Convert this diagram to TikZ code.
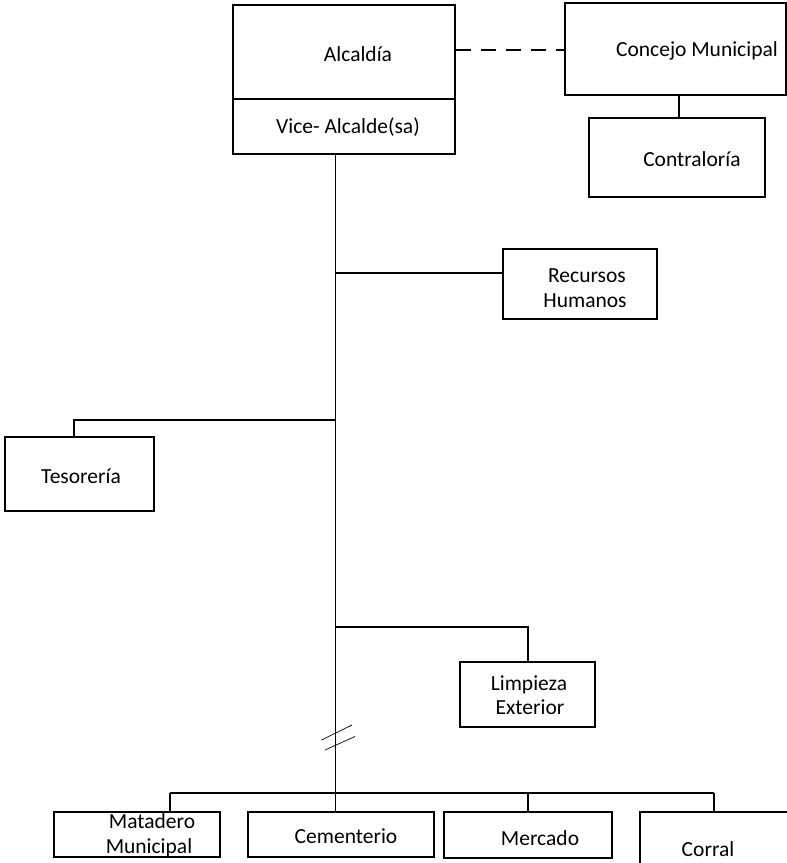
\documentclass[tikz,border=0pt]{standalone}
\usepackage{fontspec}
\setmainfont{Carlito}
\begin{document}
\begin{tikzpicture}[x=1pt,y=-1pt,
  box/.style={draw,line width=1.9pt,inner sep=0pt,minimum width=#1},
  lbl/.style={anchor=base,inner sep=0pt,font=\fontsize{21.5}{25}\selectfont},
  conn/.style={line width=1.9pt},
  slash/.style={line width=0.7pt}]
\useasboundingbox (0,0) rectangle (787,863);
% boxes
\node[box=222pt,minimum height=149pt] (alc) at (344,79.5) {};
\node[box=221pt,minimum height=92pt] (con) at (675.5,49) {};
\node[box=176pt,minimum height=79pt] (ctr) at (677,157.5) {};
\node[box=154pt,minimum height=70pt] (rh) at (580,284) {};
\node[box=149pt,minimum height=74pt] (tes) at (79.5,474) {};
\node[box=135pt,minimum height=65pt] (lim) at (527.5,694.5) {};
\node[box=166pt,minimum height=45pt] (mat) at (137,834.5) {};
\node[box=186pt,minimum height=45pt] (cem) at (341,834.5) {};
\node[box=168pt,minimum height=46pt] (mer) at (528,835) {};
\node[box=170pt,minimum height=70pt] (cor) at (725,847) {};
% labels
\node[lbl] (tAlc) at (358,61) {Alcaldía};
\node[lbl] (tVice) at (348,133) {Vice- Alcalde(sa)};
\node[lbl] (tCon) at (697,56) {Concejo Municipal};
\node[lbl] (tCtr) at (692,166) {Contraloría};
\node[lbl] (tRh1) at (587,282) {Recursos};
\node[lbl] (tRh2) at (585,307) {Humanos};
\node[lbl] (tTes) at (81,483) {Tesorería};
\node[lbl] (tLim1) at (529,690) {Limpieza};
\node[lbl] (tLim2) at (530,714) {Exterior};
\node[lbl] (tMat1) at (152,828) {Matadero};
\node[lbl] (tMat2) at (149,853) {Municipal};
\node[lbl] (tCem) at (346,843) {Cementerio};
\node[lbl] (tMer) at (540,845) {Mercado};
\node[lbl] (tCor) at (708,856) {Corral};
% divider in Alcaldía box
\coordinate (div) at (0,99);
\draw[conn] (alc.west |- div) -- (alc.east |- div);
% coordinates for connectors
\coordinate (spine) at (335.5,0);
\coordinate (dashY) at (0,50);
\coordinate (rhY) at (0,273);
\coordinate (tesY) at (0,420);
\coordinate (tesX) at (74,0);
\coordinate (limY) at (0,627);
\coordinate (limX) at (528,0);
\coordinate (botY) at (0,793);
\coordinate (matX) at (170,0);
\coordinate (merX) at (528,0);
\coordinate (corX) at (714,0);
\coordinate (ctrX) at (679,0);
% connectors
\draw[line width=1.5pt,dash pattern=on 15pt off 10pt] (alc.east |- dashY) -- (con.west |- dashY);
\draw[conn] (con.south -| ctrX) -- (ctr.north -| ctrX);
\draw[conn] (alc.south -| spine) -- (cem.north -| spine);
\draw[conn] (spine |- rhY) -- (rh.west |- rhY);
\draw[conn] (spine |- tesY) -- (tesX |- tesY) -- (tes.north -| tesX);
\draw[conn] (spine |- limY) -- (limX |- limY) -- (lim.north -| limX);
\draw[conn] (matX |- botY) -- (corX |- botY);
\draw[conn] (matX |- botY) -- (mat.north -| matX);
\draw[conn] (merX |- botY) -- (mer.north -| merX);
\draw[conn] (corX |- botY) -- (cor.north -| corX);
% break mark
\coordinate (b1a) at (321.5,740);
\coordinate (b1b) at (352,725);
\coordinate (b2a) at (325,750);
\coordinate (b2b) at (355,736.5);
\draw[slash] (b1a) -- (b1b);
\draw[slash] (b2a) -- (b2b);
\end{tikzpicture}
\end{document}
